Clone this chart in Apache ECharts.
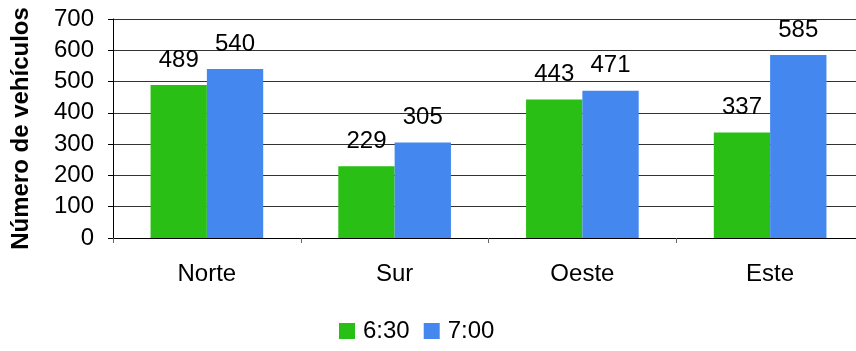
<!DOCTYPE html>
<html>
<head>
<meta charset="utf-8">
<script src="https://cdn.jsdelivr.net/npm/echarts@6/dist/echarts.min.js"></script>
<style>
html,body{margin:0;padding:0;background:#fff;}
#c{width:856px;height:351px;}
</style>
</head>
<body>
<div id="c"></div>
<script>
const categories = ['Norte', 'Sur', 'Oeste', 'Este'];
const series630 = [489, 229, 443, 337];
const series700 = [540, 305, 471, 585];
const seriesNames = ['6:30', '7:00'];
const yTicks = [0, 100, 200, 300, 400, 500, 600, 700];

const FONT = '"Liberation Sans", Arial, sans-serif';
const chart = echarts.init(document.getElementById('c'), null, {renderer: 'canvas'});
const labelStyle = {
  show: true, position: 'top', distance: 13,
  color: '#000', fontSize: 24, fontFamily: FONT
};
chart.setOption({
  animation: false,
  backgroundColor: '#fff',
  grid: {left: 113, right: -8, top: 19, bottom: 113, containLabel: false, outerBoundsMode: 'none'},
  legend: {
    data: seriesNames,
    bottom: 3,
    left: 334,
    itemWidth: 16,
    itemHeight: 16,
    itemGap: 14,
    icon: 'rect',
    textStyle: {fontSize: 24, fontFamily: FONT, color: '#000', padding: [0, 0, 0, 3]}
  },
  xAxis: {
    type: 'category',
    data: categories,
    axisLine: {show: true, lineStyle: {color: '#000', width: 1}},
    axisTick: {show: true, length: 5, lineStyle: {color: '#666'}},
    axisLabel: {fontSize: 24, fontFamily: FONT, color: '#000', margin: 24}
  },
  yAxis: {
    type: 'value',
    min: yTicks[0],
    max: yTicks[yTicks.length - 1],
    interval: 100,
    name: 'Número de vehículos',
    nameLocation: 'middle',
    nameGap: 80,
    nameTextStyle: {fontSize: 24, fontWeight: 'bold', fontFamily: FONT, color: '#000'},
    axisLine: {show: true, lineStyle: {color: '#000', width: 1}},
    axisTick: {show: true, length: 5, lineStyle: {color: '#000'}},
    axisLabel: {fontSize: 24, fontFamily: FONT, color: '#000', margin: 19},
    splitLine: {show: true, lineStyle: {color: '#333', width: 1}}
  },
  series: [
    {
      name: seriesNames[0], type: 'bar', data: series630,
      barGap: '0%', barCategoryGap: '40%',
      itemStyle: {color: '#2ABF14'},
      label: labelStyle
    },
    {
      name: seriesNames[1], type: 'bar', data: series700,
      barGap: '0%', barCategoryGap: '40%',
      itemStyle: {color: '#4487EE'},
      label: labelStyle
    }
  ]
});
</script>
</body>
</html>
